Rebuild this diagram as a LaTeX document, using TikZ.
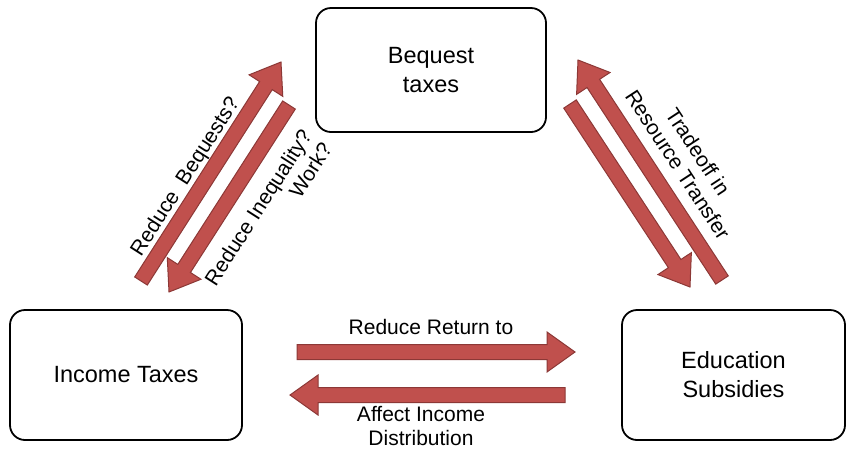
\documentclass[tikz,border=0pt]{standalone}
\usepackage{fontspec}
\setmainfont{Liberation Sans}
\usetikzlibrary{calc}
\definecolor{arrfill}{RGB}{192,80,77}
\definecolor{arrline}{RGB}{140,56,54}
\tikzset{
  box/.style={draw=black, line width=1.8pt, rounded corners=15pt, fill=white, align=center, font=\fontsize{23.5}{29}\selectfont},
  barrow/.style={fill=arrfill, draw=arrline, line width=1pt, line join=miter},
  lbl/.style={align=center, font=\fontsize{21}{24}\selectfont, inner sep=0pt}
}
\newcommand\blockarrow[3]{%
  \coordinate (#3h) at ($(#2)!28pt!(#1)$);
  \draw[barrow] ($(#1)!7.5pt!90:(#2)$) -- ($(#3h)!7.5pt!90:(#2)$) -- ($(#3h)!20pt!90:(#2)$) -- (#2)
     -- ($(#3h)!20pt!-90:(#2)$) -- ($(#3h)!7.5pt!-90:(#2)$) -- ($(#1)!7.5pt!-90:(#2)$) -- cycle;
}
\begin{document}
\begin{tikzpicture}[x=1pt,y=-1pt]
\useasboundingbox (0,0) rectangle (854,451);
\node[box, minimum width=230pt, minimum height=124pt] (beq) at (431,70) {Bequest\\taxes};
\node[box, minimum width=232pt, minimum height=130pt] (inc) at (126,375) {Income Taxes};
\node[box, minimum width=223pt, minimum height=130pt] (edu) at (733.5,375) {Education\\Subsidies};
% arrow end points
\coordinate (a1s) at (141,281); \coordinate (a1e) at (281,62);
\coordinate (a2s) at (289,105); \coordinate (a2e) at (169,292);
\coordinate (a3s) at (722,280); \coordinate (a3e) at (578,60);
\coordinate (a4s) at (570,104); \coordinate (a4e) at (690,287);
\coordinate (a5s) at (297,352); \coordinate (a5e) at (575,352);
\coordinate (a6s) at (565,395); \coordinate (a6e) at (290,395);
\blockarrow{a1s}{a1e}{a1}
\blockarrow{a2s}{a2e}{a2}
\blockarrow{a3s}{a3e}{a3}
\blockarrow{a4s}{a4e}{a4}
\blockarrow{a5s}{a5e}{a5}
\blockarrow{a6s}{a6e}{a6}
% labels
\node[lbl, rotate=57.4] (l1) at (186,177) {Reduce\ \ Bequests?};
\node[lbl, rotate=57.4, align=right] (l2) at (268,214) {Reduce Inequality?\\Work?};
\node[lbl, rotate=-56.8] (l3) at (688,158) {Tradeoff in\\Resource Transfer};
\node[lbl] (l4) at (431,327) {Reduce Return to};
\node[lbl] (l5) at (421,426) {Affect Income\\Distribution};
\end{tikzpicture}
\end{document}
